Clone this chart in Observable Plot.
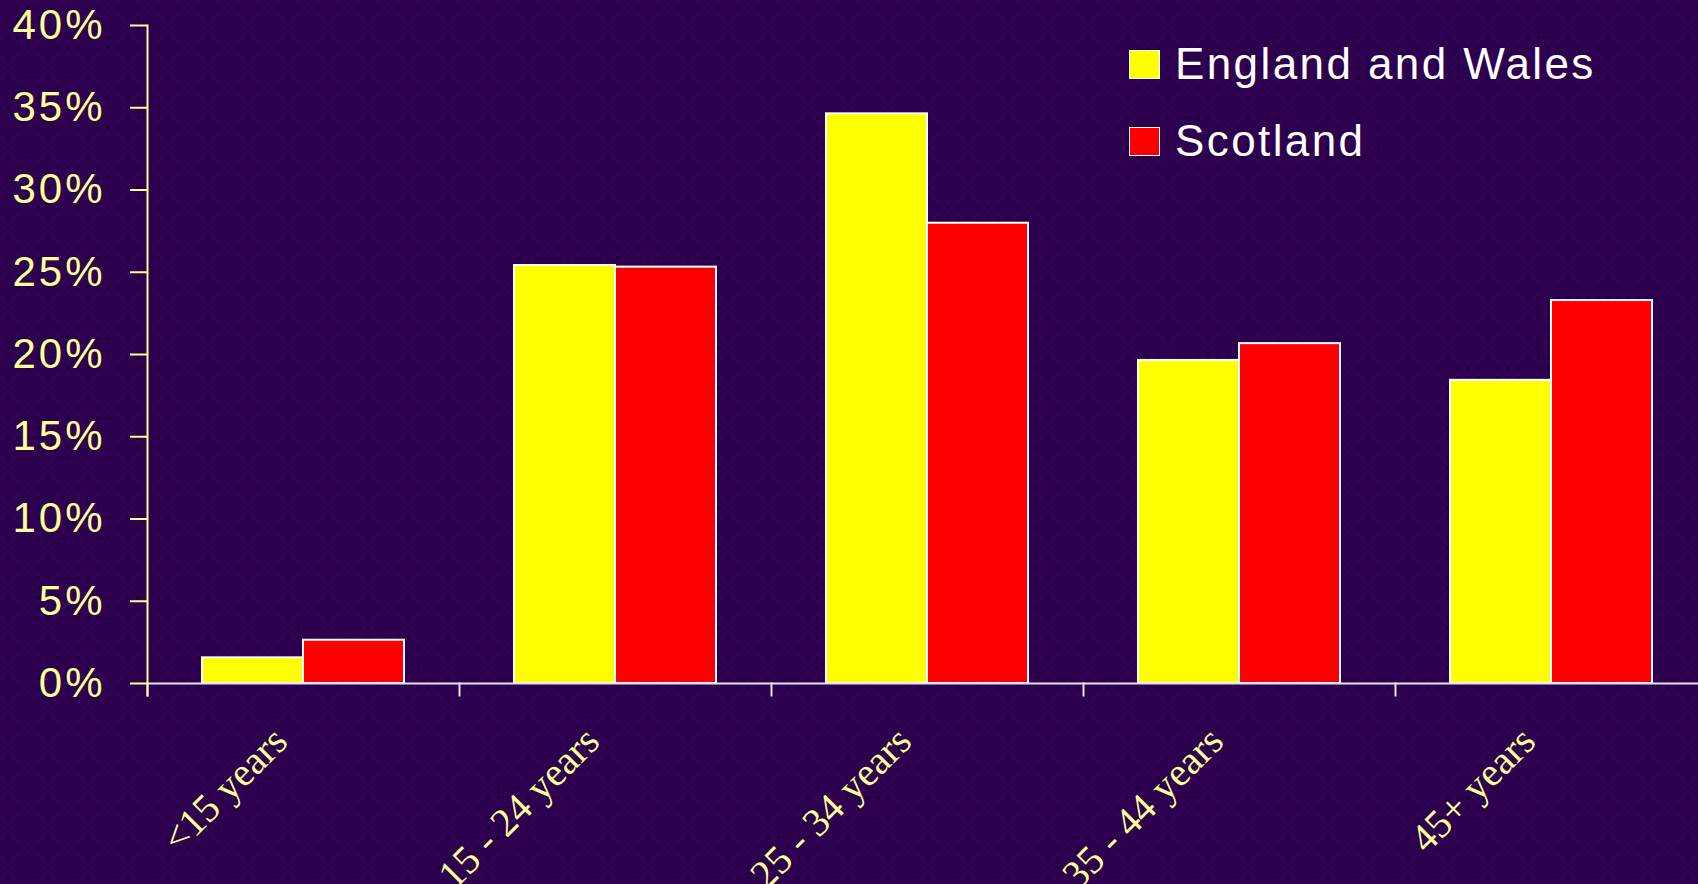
<!DOCTYPE html>
<html>
<head>
<meta charset="utf-8">
<script src="https://cdn.jsdelivr.net/npm/d3@7"></script>
<script src="https://cdn.jsdelivr.net/npm/@observablehq/plot@0.6"></script>
<style>
  html, body { margin: 0; padding: 0; }
  body {
    width: 1698px; height: 884px; overflow: hidden;
    background-color: #2e0050;
    background-image: radial-gradient(circle, #17002a 1.1px, transparent 1.6px);
    background-size: 10px 10px;
    background-position: 3px 3px;
  }
  #wrap { position: relative; width: 1698px; height: 884px; }
  #legend { position: absolute; left: 1129px; top: 44px; font-family: "Liberation Sans", Arial, sans-serif; font-size: 44px; letter-spacing: 2.4px; color: #ffffff; }
  .item { display: flex; align-items: center; height: 40px; margin-bottom: 37px; }
  .sw { width: 29px; height: 27px; border: 1px solid #ffffff; margin-right: 15px; }
  .yt text { letter-spacing: 3px; }
</style>
</head>
<body>
<div id="wrap"></div>
<script>
const categories = ["<15 years", "15 - 24 years", "25 - 34 years", "35 - 44 years", "45+ years"];
const seriesNames = ["England and Wales", "Scotland"];
const englandWales = [1.56, 25.41, 34.63, 19.64, 18.43];
const scotland = [2.63, 25.31, 27.98, 20.66, 23.28];
const seriesColors = ["#ffff00", "#ff0000"];
const yTicks = [0, 5, 10, 15, 20, 25, 30, 35, 40];

const data = [];
categories.forEach((c, i) => {
  data.push({age: c, series: seriesNames[0], value: englandWales[i]});
  data.push({age: c, series: seriesNames[1], value: scotland[i]});
});

const axisYellow = "#ffff99";
const axisWhite = "#e6e0f0";

const chart = Plot.plot({
  width: 1698,
  height: 884,
  marginLeft: 145,
  marginRight: -10,
  marginTop: 25,
  marginBottom: 201,
  style: {background: "transparent", color: axisYellow, overflow: "visible"},
  fx: {domain: categories, padding: 0, axis: null},
  x: {domain: seriesNames, paddingInner: 0, paddingOuter: 0.53, axis: null},
  y: {domain: [0, 40], axis: null},
  color: {domain: seriesNames, range: seriesColors},
  marks: [
    Plot.barY(data, {fx: "age", x: "series", y: "value", fill: "series", stroke: "#ffffff", strokeWidth: 2}),
    Plot.ruleY([0], {stroke: axisWhite, strokeWidth: 2}),
    Plot.frame({anchor: "left", insetTop: 658, insetBottom: -12, stroke: axisWhite, strokeWidth: 2}),
    Plot.frame({anchor: "left", insetBottom: -12, stroke: axisYellow, strokeWidth: 2, facetAnchor: "left"}),
    Plot.axisY({
      ticks: yTicks,
      tickFormat: d => d + "%",
      tickSize: 17,
      tickPadding: 25,
      strokeWidth: 2,
      fontSize: 42,
      fontFamily: "Liberation Sans, Arial, sans-serif",
      color: axisYellow,
      className: "yt",
      label: null
    }),
    Plot.text(categories, {
      fx: d => d,
      text: d => d,
      frameAnchor: "bottom",
      rotate: -45,
      textAnchor: "end",
      dx: -14,
      dy: 60,
      fontSize: 40,
      fontFamily: "Liberation Serif, Times New Roman, serif",
      fill: axisYellow
    })
  ]
});

const wrap = document.getElementById("wrap");
wrap.appendChild(chart);

const legend = document.createElement("div");
legend.id = "legend";
seriesNames.forEach((name, i) => {
  const item = document.createElement("div");
  item.className = "item";
  const sw = document.createElement("span");
  sw.className = "sw";
  sw.style.background = seriesColors[i];
  const label = document.createElement("span");
  label.textContent = name;
  item.appendChild(sw);
  item.appendChild(label);
  legend.appendChild(item);
});
wrap.appendChild(legend);
</script>
</body>
</html>
